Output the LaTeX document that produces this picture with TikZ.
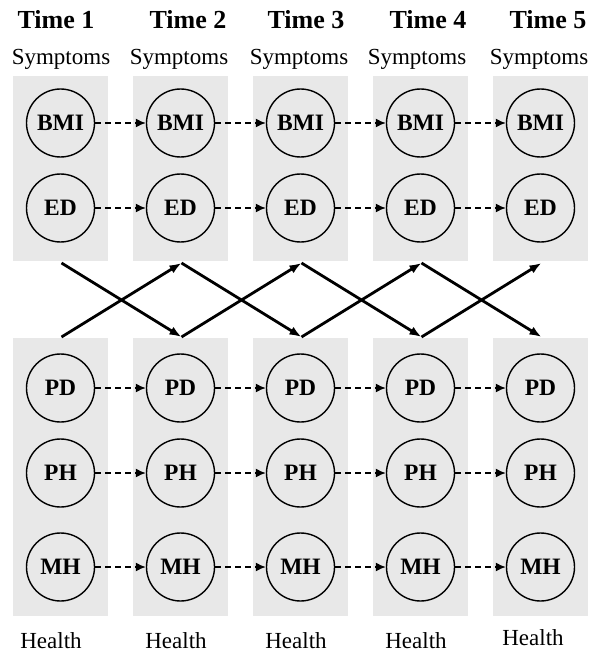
\documentclass[tikz,border=0pt]{standalone}
\usepackage{fontspec}
\setmainfont{Liberation Serif}
\usetikzlibrary{arrows.meta}

\begin{document}
\begin{tikzpicture}[x=1pt,y=-1pt,
    panel/.style={fill=black!9,draw=none},
    var/.style={circle,draw=black,line width=1.4pt,minimum size=68pt,inner sep=0pt,
      font=\fontsize{23.5}{26}\selectfont\bfseries},
    head/.style={anchor=base,inner sep=0pt,font=\fontsize{26}{28}\selectfont\bfseries},
    lbl/.style={anchor=base,inner sep=0pt,font=\fontsize{23}{26}\selectfont},
    lag/.style={-{Latex[length=10pt,width=9pt]},dash pattern=on 6pt off 4pt,line width=1.5pt},
    cross/.style={-{Latex[length=12pt,width=9pt]},line width=2.8pt}
  ]
  \useasboundingbox (0,0) rectangle (592,655);
  % columns: time label, symptom and health panels
  \foreach \i/\tx/\sx/\hx/\hy in {1/56/61/51/648,2/188/179/176/648,3/306/299/296/648,
      4/428/417/416/648,5/548/539/533/645}{
    \pgfmathsetmacro{\cx}{60.5+120*(\i-1)}
    \fill[panel] (\cx-47.5,76) rectangle (\cx+47.5,261);
    \fill[panel] (\cx-47.5,338) rectangle (\cx+47.5,616);
    \node[head] (time\i) at (\tx,29) {Time \i};
    \node[lbl] (sym\i) at (\sx,65) {Symptoms};
    \node[lbl] (hlt\i) at (\hx,\hy) {Health};
    \node[var] (bmi\i) at (\cx,123) {BMI};
    \node[var] (ed\i) at (\cx,208) {ED};
    \node[var] (pd\i) at (\cx,388) {PD};
    \node[var] (ph\i) at (\cx,473) {PH};
    \node[var] (mh\i) at (\cx,567) {MH};
    \coordinate (up\i) at (\cx+1,263);
    \coordinate (dn\i) at (\cx+1,337);
  }
  % lagged paths and cross-lagged paths
  \foreach \i/\j in {1/2,2/3,3/4,4/5}{
    \foreach \v in {bmi,ed,pd,ph,mh}
      \draw[lag] (\v\i) -- (\v\j);
    \draw[cross] (up\i) -- (dn\j);
    \draw[cross] (dn\i) -- (up\j);
  }
\end{tikzpicture}
\end{document}
